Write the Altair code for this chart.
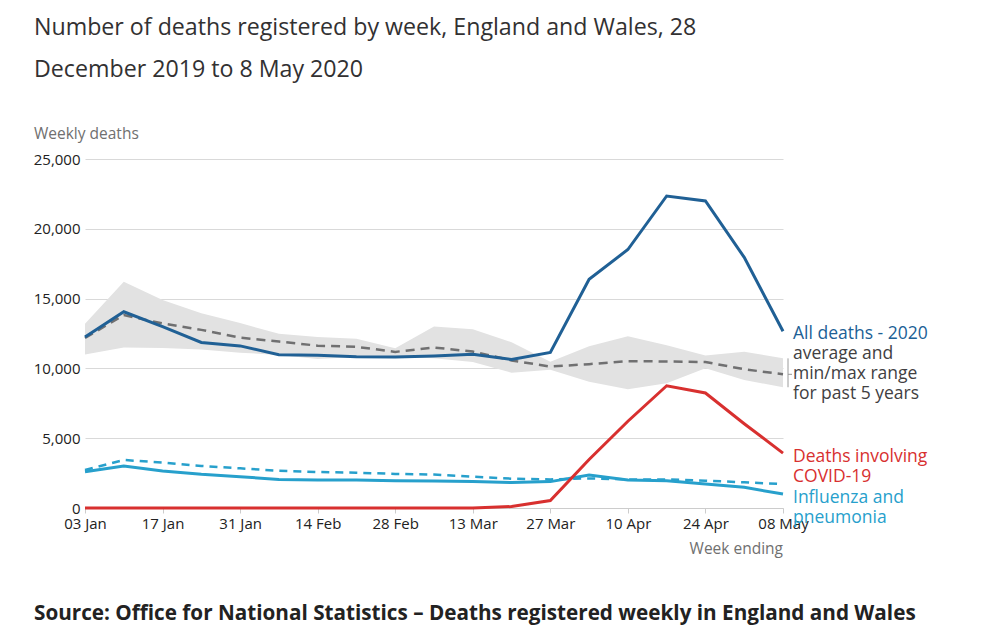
import altair as alt
import pandas as pd

week_labels = ["03 Jan", "10 Jan", "17 Jan", "24 Jan", "31 Jan", "07 Feb", "14 Feb", "21 Feb",
               "28 Feb", "06 Mar", "13 Mar", "20 Mar", "27 Mar", "03 Apr", "10 Apr", "17 Apr",
               "24 Apr", "01 May", "08 May"]
all_deaths_2020 = [12254, 14058, 12990, 11856, 11612, 10986, 10944, 10841, 10816, 10895, 11019,
                   10645, 11141, 16387, 18516, 22351, 21997, 17953, 12657]
avg_5yr = [12175, 13822, 13216, 12760, 12206, 11925, 11627, 11548, 11183, 11498, 11205, 10573,
           10130, 10305, 10520, 10497, 10458, 9941, 9576]
min_5yr = [11000, 11500, 11460, 11350, 11130, 10960, 10680, 10820, 10820, 10720, 10450, 9690,
           9900, 9050, 8500, 8930, 10010, 9170, 8650]
max_5yr = [13200, 16200, 14900, 13950, 13250, 12480, 12250, 12130, 11440, 13000, 12800, 11880,
           10480, 11580, 12300, 11650, 10920, 11200, 10720]
covid_19 = [0, 0, 0, 0, 0, 0, 0, 0, 0, 0, 0, 103, 539, 3475, 6213, 8758, 8237, 6035, 3930]
flu_2020 = [2600, 3010, 2650, 2410, 2240, 2050, 2000, 2000, 1960, 1930, 1890, 1820, 1890, 2360,
            2000, 1960, 1720, 1480, 1000]
flu_avg = [2720, 3440, 3250, 3010, 2840, 2670, 2580, 2530, 2440, 2400, 2240, 2100, 2050, 2120,
           2050, 2050, 1960, 1840, 1720]
y_ticks = [0, 5000, 10000, 15000, 20000, 25000]

FONT = "Open Sans"
BLUE = "#206095"
RED = "#d8302f"
TEAL = "#27a0cc"
GREY = "#707071"
W, H = 698, 349

df = pd.DataFrame({
    "i": list(range(len(week_labels))),
    "week": week_labels,
    "all": all_deaths_2020,
    "avg": avg_5yr,
    "min": min_5yr,
    "max": max_5yr,
    "covid": covid_19,
    "flu": flu_2020,
    "flu_avg": flu_avg,
})
last = df.iloc[[-1]]

label_js = "[" + ",".join("'" + w + "'" for w in week_labels) + "]"
x_axis = alt.Axis(values=list(range(0, len(week_labels), 2)), labelExpr=label_js + "[datum.value]",
                  title=None, grid=False, ticks=True, tickSize=5, tickColor="#cccccc",
                  domainColor="#cccccc", labelFontSize=15, labelColor="#222222",
                  labelFont=FONT, labelPadding=3, labelFlush=False, labelOverlap=False)
y_axis = alt.Axis(values=y_ticks, format=",.0f", title=None, grid=True, gridColor="#d9d9d9",
                  domain=False, ticks=False, labelPadding=5, labelFontSize=15,
                  labelColor="#222222", labelFont=FONT, labelFlush=False)
xs = alt.Scale(domain=[0, len(week_labels) - 1], nice=False, zero=False)
ys = alt.Scale(domain=[0, 25000], nice=False)

X = alt.X("i:Q", scale=xs, axis=x_axis)


def Y(field):
    return alt.Y(field + ":Q", scale=ys, axis=y_axis)


base = alt.Chart(df)

band = base.mark_area(color="#e2e2e2").encode(x=X, y=Y("min"), y2="max:Q")


def line(field, color, width, dash=None):
    kw = dict(color=color, strokeWidth=width)
    if dash:
        kw["strokeDash"] = dash
    return base.mark_line(**kw).encode(x=X, y=Y(field))


avg_line = line("avg", GREY, 2.5, [9, 6])
flu_avg_line = line("flu_avg", TEAL, 2.5, [8, 6])
flu_line = line("flu", TEAL, 3)
covid_line = line("covid", RED, 3)
all_line = line("all", BLUE, 3)

range_rule = alt.Chart(last).mark_rule(color="#9a9a9a", strokeWidth=1, xOffset=5, x2Offset=5).encode(
    x=X, x2="i:Q", y=Y("min"), y2="max:Q")
avg_tick = alt.Chart(last).mark_rule(color="#9a9a9a", strokeWidth=1, xOffset=5, x2Offset=9).encode(
    x=X, x2="i:Q", y=Y("avg"))


def end_label(field, text, color, dy):
    return alt.Chart(last).mark_text(align="left", baseline="top", dx=10, dy=dy, fontSize=17.5,
                                     font=FONT, color=color, lineBreak="\n", lineHeight=20).encode(
        x=X, y=Y(field), text=alt.value(text))


lab_all = end_label("all", "All deaths - 2020", BLUE, -6.5)
lab_avg = end_label("all", "average and\nmin/max range\nfor past 5 years", "#414042", 14)
lab_covid = end_label("covid", "Deaths involving\nCOVID-19", RED, -5.5)
lab_flu = end_label("flu", "Influenza and\npneumonia", TEAL, -5.5)

ann = pd.DataFrame({"k": [0]})


def note(text, x, y, size, color, align="left", weight="normal", line_height=None):
    kw = dict(align=align, baseline="middle", fontSize=size, font=FONT, color=color,
              fontWeight=weight, lineBreak="\n")
    if line_height:
        kw["lineHeight"] = line_height
    return alt.Chart(ann).mark_text(**kw).encode(
        x=alt.value(x), y=alt.value(y), text=alt.value(text))


title = note("Number of deaths registered by week, England and Wales, 28\nDecember 2019 to 8 May 2020",
             34 - 85, 28 - 159, 23.2, "#323132", line_height=42)
ylab = note("Weekly deaths", 34 - 85, 134 - 159, 15.5, "#707070")
xlab = note("Week ending", W, 549 - 159, 15.5, "#707070", align="right")
source = note("Source: Office for National Statistics \u2013 Deaths registered weekly in England and Wales",
              34 - 85, 614 - 159, 20.7, "#222222", weight="bold")

chart = alt.layer(
    band, avg_line, flu_avg_line, flu_line, covid_line, all_line,
    range_rule, avg_tick, lab_all, lab_avg, lab_covid, lab_flu,
    title, ylab, xlab, source,
).properties(
    width=W, height=H,
    padding={"left": 77, "top": 151, "right": 209, "bottom": 125},
    autosize=alt.AutoSizeParams(type="none"),
).configure(font=FONT).configure_view(stroke=None)

chart.save("out.html", embed_options={"renderer": "svg", "actions": False})
